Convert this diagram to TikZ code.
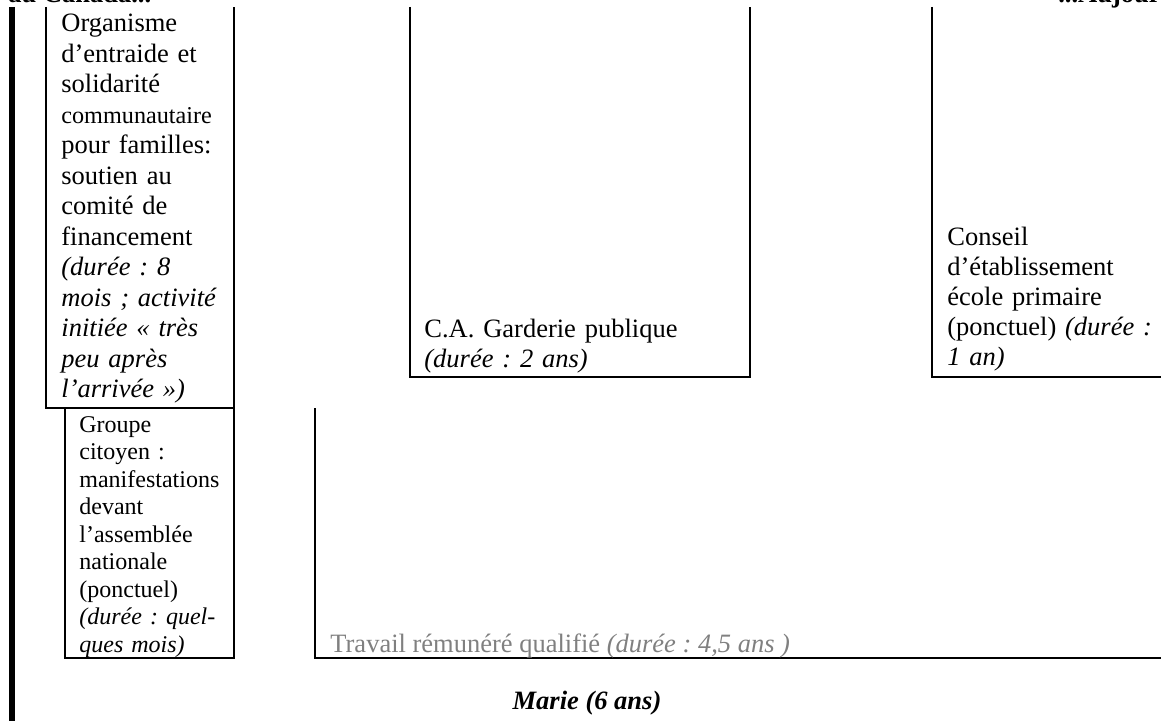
\documentclass[tikz,border=0pt]{standalone}
\usepackage{fontspec}
\setmainfont{Liberation Serif}
\definecolor{travailgray}{RGB}{128,128,128}
\frenchspacing

\begin{document}
\begin{tikzpicture}
              [x=0.5pt,y=-0.5pt,
                every node/.style={inner sep=0pt,anchor=base west,align=left,font=\fontsize{13.25}{15}\selectfont},
                petit/.style={font=\fontsize{12}{13.75}\selectfont},
                titre/.style={font=\fontsize{13.25}{15}\selectfont\bfseries},
                box/.style={draw=black,line width=1pt},
                bar/.style={draw=black,line width=3pt}]
              \useasboundingbox (0,0) rectangle (1161,721);
              \clip (0,0) rectangle (1161,721);
              % corners of the open boxes
              \coordinate (a1) at (46,7);   \coordinate (a2) at (46,408);
              \coordinate (a3) at (234,408); \coordinate (a4) at (234,7);
              \coordinate (b1) at (65,408);  \coordinate (b2) at (65,658);
              \coordinate (b3) at (234,658);
              \coordinate (c1) at (410,7);   \coordinate (c2) at (410,377);
              \coordinate (c3) at (750,377); \coordinate (c4) at (750,7);
              \coordinate (d1) at (932,7);   \coordinate (d2) at (932,377);
              \coordinate (d3) at (1161,377);
              \coordinate (e1) at (315,408); \coordinate (e2) at (315,658);
              \coordinate (e3) at (1161,658);
              \coordinate (f1) at (12,7);    \coordinate (f2) at (12,721);
              \draw[bar] (f1) -- (f2);
              \draw[box] (a1) -- (a2) -- (a3) -- (a4);
              \draw[box] (b1) -- (b2) -- (b3) -- (a3);
              \draw[box] (c1) -- (c2) -- (c3) -- (c4);
              \draw[box] (d1) -- (d2) -- (d3);
              \draw[box] (e1) -- (e2) -- (e3);
              % titles cut at the top edge
              \node[titre] (canada) at (8,3) {au Canada...};
              \node[titre,anchor=base east] (aujour) at (1161,3) {...Aujour};
              \node[text width=95pt,font=\fontsize{13.25}{15.25}\selectfont] (org) at (61,32)
                {Organisme\\ d’entraide et\\ solidarité\\ {\fontsize{12.1}{15.25}\selectfont communautaire}\\ pour familles:\\ soutien au\\ comité de\\ financement\\
                 \textit{(durée : 8}\\ \textit{mois ; activité}\\ \textit{initiée « très}\\ \textit{peu après}\\ \textit{l’arrivée »)}};
              \node[petit,text width=80pt] (cit) at (79,432)
                {Groupe\\ citoyen :\\ manifestations\\ devant\\ l’assemblée\\ nationale\\ (ponctuel)\\ \textit{(durée : quel-}\\ \textit{ques mois)}};
              \node[text width=140pt] (ca) at (424,338)
                {C.A. Garderie publique\\ \textit{(durée : 2 ans)}};
              \node[text width=110pt] (ce) at (947,246)
                {Conseil\\ d’établissement\\ école primaire\\ (ponctuel) \textit{(durée :}\\ \textit{1 an)}};
              \node[text=travailgray] (trav) at (330,652)
                {Travail rémunéré qualifié \textit{(durée : 4,5 ans )}};
              \node[anchor=base,font=\fontsize{13.25}{15}\selectfont\bfseries\itshape] (marie) at (587,709) {Marie (6 ans)};
            \end{tikzpicture}
\end{document}
